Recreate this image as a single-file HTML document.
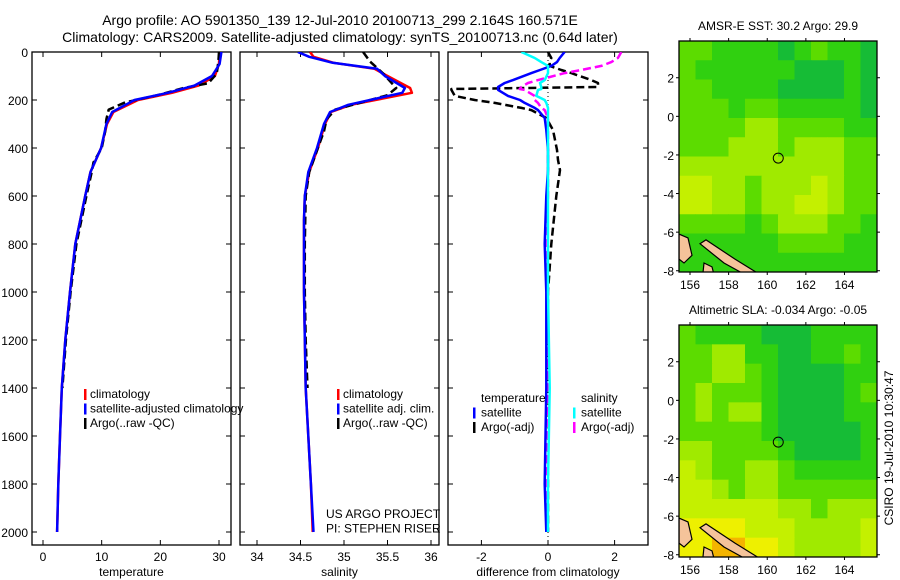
<!DOCTYPE html>
<html><head><meta charset="utf-8"><style>
body{margin:0;background:#fff}
svg{display:block;font-family:"Liberation Sans",sans-serif}
text{fill:#000}
</style></head><body>
<svg id="fig" width="900" height="580" viewBox="0 0 900 580">
<text x="340" y="25" font-size="14" text-anchor="middle">Argo profile: AO 5901350_139 12-Jul-2010 20100713_299 2.164S 160.571E</text>
<text x="340" y="42" font-size="14" text-anchor="middle">Climatology: CARS2009. Satellite-adjusted climatology: synTS_20100713.nc (0.64d later)</text>
<g id="maps"></g>
<g id="p1"></g><g id="p2"></g><g id="p3"></g>
<text transform="translate(893,448) rotate(-90)" font-size="12" text-anchor="middle">CSIRO 19-Jul-2010 10:30:47</text>
</svg>
<script>
// ---- data ----
const depthT=[0,50,100,140,170,200,250,300,400,500,600,800,1000,1200,1400,1600,1800,2000];
const tempClim=[30.1,30,29.3,26.5,22,16.2,12,10.9,9.9,8.1,7.2,5.5,4.6,3.8,3.2,2.9,2.6,2.4];
const tempSat=[30.4,30.1,28.8,25.8,21.3,15.6,11.8,10.8,9.9,8.1,7.2,5.5,4.6,3.8,3.2,2.9,2.6,2.4];
const depthArgo=[0,40,90,130,150,180,210,240,280,330,400,460,500,600,800,1000,1200,1400];
const tempArgo=[30,29.9,29.6,28.2,24,19.5,14,11.2,10.8,10.6,10,8.6,8.3,7.4,5.7,4.7,3.9,3.3];
const depthS=[0,20,45,70,100,150,170,200,220,250,300,400,500,600,700,1000,1400,1800,2000];
const salClim=[34.61,34.65,34.88,35.35,35.5,35.76,35.78,35.36,35.08,34.85,34.78,34.7,34.6,34.55,34.54,34.54,34.56,34.62,34.64];
const salSat=[34.47,34.6,34.87,35.38,35.47,35.7,35.67,35.3,35.05,34.84,34.77,34.69,34.59,34.55,34.54,34.54,34.56,34.62,34.65];
const salArgo=[35.22,35.3,35.45,35.55,35.6,35.5,35.2,34.9,34.8,34.77,34.7,34.64,34.6,34.56,34.55,34.55,34.56,34.58];
const depthD=[0,25,42,58,75,88,117,129,146,154,158,183,200,212,233,242,275,325,408,450,492,600,800,1000,1400,1800,2000];
const dTsat=[0.5,0.35,0.27,0.1,-0.24,-0.5,-1.05,-1.3,-1.5,-1.5,-1.5,-1.2,-0.84,-0.7,-0.4,-0.3,-0.1,-0.05,0,0,0,-0.05,-0.1,-0.05,-0.05,-0.1,-0.05];
const dTargo=[0,0.1,0.05,0.05,0.4,0.7,1.3,1.5,1.5,-2.9,-2.9,-2.8,-2.2,-1.6,-0.8,-0.5,-0.05,0.15,0.27,0.3,0.36,0.25,0.1,0,0,0,0];
const dSsat=[-0.8,-0.4,-0.2,0,0,0,-0.1,-0.24,-0.2,-0.2,-0.3,-0.35,-0.1,-0.05,0,0,0,0,0,0,0,0,0,0,0.05,0,0];
const dSargo=[2.2,2.1,1.9,1.6,1.0,0.5,-0.3,-0.6,-0.8,-0.85,-0.7,-0.4,-0.4,-0.3,-0.2,-0.1,0,0,0,0,0,0,-0.05,0,0,-0.05,0];
const depthTicks=[0,200,400,600,800,1000,1200,1400,1600,1800,2000];
const tempTicks=[0,10,20,30];
const salTicks=[34,34.5,35,35.5,36];
const diffTicks=[-2,0,2];
const lonTicks=[156,158,160,162,164];
const latTicks=[2,0,-2,-4,-6,-8];
const sstGrid=[
[2,2,1,1,1,1,0,1,2,1,1,0],[2,1,1,1,1,1,1,0,0,0,1,0],[2,2,1,1,1,1,0,0,0,0,1,0],
[2,2,2,1,2,2,1,1,1,1,1,0],[2,2,2,2,3,3,2,2,2,2,1,1],[2,2,2,3,3,3,2,3,3,3,2,2],
[3,3,3,3,3,3,3,3,3,3,2,2],[4,4,3,3,2,3,3,3,4,3,2,2],[4,4,3,3,2,3,3,4,4,3,2,2],
[2,2,2,2,1,2,3,3,3,2,2,1],[1,1,1,1,1,1,2,2,2,2,1,1],[1,1,1,1,1,1,1,1,1,1,1,1]];
const slaGrid=[
[2,1,1,1,1,0,0,0,1,1,1,1],[2,2,3,3,1,1,0,0,1,1,2,1],[2,2,3,3,2,1,0,0,0,0,1,1],
[2,3,2,2,2,1,0,0,0,0,1,2],[2,3,2,3,3,1,0,0,0,0,1,1],[2,2,2,2,2,1,0,0,0,0,0,1],
[3,3,2,2,2,2,1,0,0,0,0,1],[4,3,2,2,3,3,2,1,1,1,1,1],[4,4,3,2,3,3,2,2,2,2,2,2],
[4,4,4,4,4,4,3,3,2,3,3,3],[5,5,5,5,4,4,4,3,3,3,3,4],[5,5,6,6,5,5,4,3,3,3,3,4]];
const argoLon=160.571, argoLat=-2.164;
// ---- helpers ----
const NS='http://www.w3.org/2000/svg';
function mk(tag,attrs,parent){const e=document.createElementNS(NS,tag);for(const k in attrs)e.setAttribute(k,attrs[k]);parent.appendChild(e);return e;}
const yD=d=>52+d*0.24;
function panel(g,x0,x1,xf,ticks,label,fmt,name,leftLabels){
  const f=mk('rect',{x:x0,y:52,width:x1-x0,height:493,fill:'none',stroke:'#000','stroke-width':1.3},g);
  
  depthTicks.forEach(d=>{const y=yD(d);
    mk('line',{x1:x0,x2:x0+5,y1:y,y2:y,stroke:'#000'},g);mk('line',{x1:x1-5,x2:x1,y1:y,y2:y,stroke:'#000'},g);
    if(leftLabels){const t=mk('text',{x:x0-4,y:y+5,'font-size':12,'text-anchor':'end'},g);t.textContent=d;
      }});
  ticks.forEach(v=>{const x=xf(v);
    mk('line',{x1:x,x2:x,y1:52,y2:57,stroke:'#000'},g);mk('line',{x1:x,x2:x,y1:540,y2:545,stroke:'#000'},g);
    const t=mk('text',{x:x,y:561,'font-size':12,'text-anchor':'middle'},g);t.textContent=fmt(v);
    });
  const l=mk('text',{x:(x0+x1)/2,y:576,'font-size':12,'text-anchor':'middle'},g);l.textContent=label;
  
}
function line(g,xs,ds,xf,color,dash,name,clip){
  const pts=xs.map((v,i)=>xf(v).toFixed(1)+','+yD(ds[i]).toFixed(1)).join(' ');
  const p=mk('polyline',{points:pts,fill:'none',stroke:color,'stroke-width':2.5,'stroke-linejoin':'round'},g);
  if(dash)p.setAttribute('stroke-dasharray',dash);
  if(clip)p.setAttribute('clip-path',clip);
  
}
function legend(g,x,y,items){
  items.forEach((it,i)=>{const yy=y+i*14.5;
    if(it[1])mk('rect',{x:x,y:yy-9,width:2.5,height:11,fill:it[1]},g);
    const t=mk('text',{x:x+it[2],y:yy,'font-size':12},g);t.textContent=it[0];
    });
}
const svg=document.getElementById('fig');
const defs=mk('defs',{},svg);
[['c1',32,231],['c2',240,439],['c3',448,648]].forEach(c=>{const cp=mk('clipPath',{id:c[0]},defs);mk('rect',{x:c[1],y:52,width:c[2]-c[1],height:493},cp);});
// panel 1
const g1=document.getElementById('p1');
const xT=t=>43+t*5.867;
panel(g1,32,231,xT,tempTicks,'temperature',v=>v,'temperature',true);
line(g1,tempClim,depthT,xT,'#f00',null,'temp-climatology-line','url(#c1)');
line(g1,tempArgo,depthArgo,xT,'#000','8 4','temp-argo-line','url(#c1)');
line(g1,tempSat,depthT,xT,'#00f',null,'temp-satellite-line','url(#c1)');
legend(g1,84,398,[['climatology','#f00',6],['satellite-adjusted climatology','#00f',6],['Argo(..raw -QC)','#000',6]]);
// panel 2
const g2=document.getElementById('p2');
const xS=s=>257+(s-34)*87;
panel(g2,240,439,xS,salTicks,'salinity',v=>v,'salinity',false);
line(g2,salClim,depthS,xS,'#f00',null,'sal-climatology-line','url(#c2)');
line(g2,salArgo,depthArgo,xS,'#000','8 4','sal-argo-line','url(#c2)');
line(g2,salSat,depthS,xS,'#00f',null,'sal-satellite-line','url(#c2)');
legend(g2,337,398,[['climatology','#f00',6],['satellite adj. clim.','#00f',6],['Argo(..raw -QC)','#000',6]]);
legend(g2,326,518,[['US ARGO PROJECT',null,0],['PI: STEPHEN RISER',null,0]]);
// panel 3
const g3=document.getElementById('p3');
const xDf=v=>548+v*33.3;
panel(g3,448,648,xDf,diffTicks,'difference from climatology',v=>v,'difference',false);
mk('line',{x1:548,x2:548,y1:52,y2:545,stroke:'#000','stroke-dasharray':'1 3'},g3);
line(g3,dTargo,depthD,xDf,'#000','8 4','diff-temp-argo-line','url(#c3)');
line(g3,dSargo,depthD,xDf,'#f0f','8 4','diff-sal-argo-line','url(#c3)');
line(g3,dTsat,depthD,xDf,'#00f',null,'diff-temp-satellite-line','url(#c3)');
line(g3,dSsat,depthD,xDf,'#0ff',null,'diff-sal-satellite-line','url(#c3)');
legend(g3,473,402,[['temperature',null,8],['satellite','#00f',8],['Argo(-adj)','#000',8]]);
legend(g3,573,402,[['salinity',null,8],['satellite','#0ff',8],['Argo(-adj)','#f0f',8]]);
// maps
const cmap=['#16bc36','#30d010','#5cdc00','#a0ea00','#c4f000','#eef000','#f4b400'];
const gm=document.getElementById('maps');
function map(top,bot,grid,title,name){
  const lonX=l=>690+(l-156)*19.31;
  const latY=l=>top+(3.8-l)*19.3+2;
  const cl=mk('clipPath',{id:'cl'+name},defs);mk('rect',{x:679,y:top,width:198,height:bot-top},cl);
  const g=mk('g',{'clip-path':'url(#cl'+name+')'},gm);
  
  const rows=grid.length,cols=grid[0].length,cw=198/cols,ch=(bot-top)/rows;
  grid.forEach((r,i)=>r.forEach((v,j)=>{const c=mk('rect',{x:679+j*cw,y:top+i*ch,width:cw+0.5,height:ch+0.5,fill:cmap[v]},g);
    }));
  const land=mk('path',{d:`M679,${latY(-6.1)} L688,${latY(-6.3)} L692,${latY(-7.2)} L684,${latY(-7.6)} L679,${latY(-7.4)} Z M700,${latY(-6.6)} L706,${latY(-6.4)} L735,${latY(-7.4)} L760,${latY(-8.2)} L752,${latY(-8.4)} L724,${latY(-7.6)} Z M704,${latY(-7.6)} L712,${latY(-7.8)} L716,${latY(-8.6)} L702,${latY(-8.6)} Z`,fill:'#f5c39a',stroke:'#000','stroke-width':1.2},g);
  
  const f=mk('rect',{x:679,y:top,width:198,height:bot-top,fill:'none',stroke:'#000','stroke-width':1.3},gm);
  
  lonTicks.forEach(l=>{const x=lonX(l);mk('line',{x1:x,x2:x,y1:top-3,y2:top,stroke:'#000'},gm);mk('line',{x1:x,x2:x,y1:bot,y2:bot+3,stroke:'#000'},gm);
    const t=mk('text',{x:x,y:bot+17,'font-size':12,'text-anchor':'middle'},gm);t.textContent=l;
    });
  latTicks.forEach(l=>{const y=latY(l);mk('line',{x1:676,x2:679,y1:y,y2:y,stroke:'#000'},gm);mk('line',{x1:877,x2:880,y1:y,y2:y,stroke:'#000'},gm);
    const t=mk('text',{x:674,y:y+5,'font-size':12,'text-anchor':'end'},gm);t.textContent=l;
    });
  const c=mk('circle',{cx:lonX(argoLon),cy:latY(argoLat),r:5,fill:'none',stroke:'#000','stroke-width':1},gm);
  
  const t=mk('text',{x:778,y:top-11,'font-size':12,'text-anchor':'middle'},gm);t.textContent=title;
  
}
map(41,272,sstGrid,'AMSR-E SST: 30.2 Argo: 29.9','sst-map');
map(325,557,slaGrid,'Altimetric SLA: -0.034 Argo: -0.05','sla-map');
</script>
</body></html>
